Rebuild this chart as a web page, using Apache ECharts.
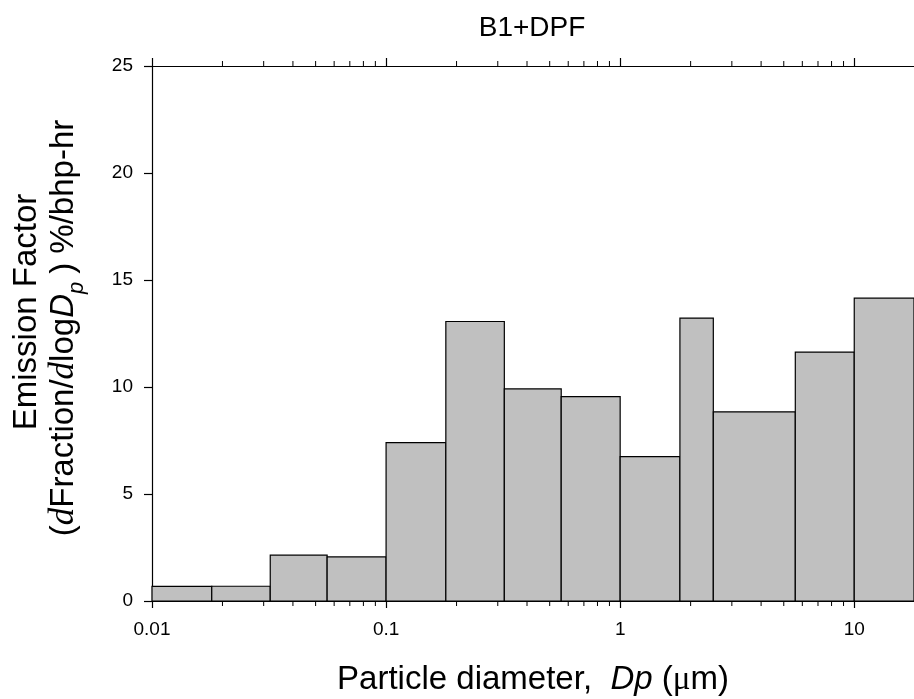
<!DOCTYPE html>
<html>
<head>
<meta charset="utf-8">
<script src="https://cdn.jsdelivr.net/npm/echarts@6/dist/echarts.min.js"></script>
<style>
html,body{margin:0;padding:0;background:#fff;}
#chart{width:914px;height:699px;}
</style>
</head>
<body>
<div id="chart"></div>
<script>
// Bin edges (µm) of the impactor stages
const binLower = [0.01, 0.018, 0.032, 0.056, 0.1, 0.18, 0.32, 0.56, 1.0, 1.8, 2.5, 5.6, 10];
const binUpper = [0.018, 0.032, 0.056, 0.1, 0.18, 0.32, 0.56, 1.0, 1.8, 2.5, 5.6, 10, 18];
// Emission factor values (dFraction/dlogDp %/bhp-hr)
const emissionValues = [0.68, 0.69, 2.14, 2.06, 7.40, 13.06, 9.91, 9.55, 6.75, 13.22, 8.84, 11.63, 14.15];
// Axis ticks
const xMajorTicks = [0.01, 0.1, 1, 10];
const xTickLabels = ['0.01', '0.1', '1', '10'];
const xMinorTicks = [0.02,0.03,0.04,0.05,0.06,0.07,0.08,0.09,
                     0.2,0.3,0.4,0.5,0.6,0.7,0.8,0.9,
                     2,3,4,5,6,7,8,9];

const FONT = '"Liberation Sans", Arial, sans-serif';
const SERIF = '"Liberation Serif", "Times New Roman", serif';

const chart = echarts.init(document.getElementById('chart'), null, {renderer: 'canvas'});

const barData = binLower.map((lo, i) => [lo, binUpper[i], emissionValues[i]]);
const minorData = xMinorTicks.map(v => [v]);

const option = {
  animation: false,
  backgroundColor: '#ffffff',
  grid: {left: 152, top: 66, bottom: 98, right: -2, containLabel: false},
  xAxis: [
    {
      type: 'log', logBase: 10, min: 0.01, max: 18, position: 'bottom',
      axisLine: {show: true, lineStyle: {color: '#000', width: 1.2}},
      axisTick: {show: true, inside: false, length: 7, customValues: xMajorTicks, lineStyle: {color: '#000', width: 1.2}},
      axisLabel: {
        show: true, customValues: xMajorTicks, margin: 19,
        fontFamily: FONT, fontSize: 19, color: '#000',
        formatter: function (v) {
          const k = Math.round(Math.log10(v)) + 2;
          return xTickLabels[k] !== undefined ? xTickLabels[k] : '';
        }
      },
      splitLine: {show: false}, minorTick: {show: false}
    },
    {
      type: 'log', logBase: 10, min: 0.01, max: 18, position: 'top',
      axisLine: {show: true, lineStyle: {color: '#000', width: 1.2}},
      axisTick: {show: true, inside: false, length: 8, customValues: xMajorTicks, lineStyle: {color: '#000', width: 1.2}},
      axisLabel: {show: false},
      splitLine: {show: false}
    }
  ],
  yAxis: [{
    type: 'value', min: 0, max: 25, interval: 5,
    axisLine: {show: true, onZero: false, lineStyle: {color: '#000', width: 1.2}},
    axisTick: {show: true, inside: false, length: 8, lineStyle: {color: '#000', width: 1.2}},
    axisLabel: {show: true, margin: 19, fontFamily: FONT, fontSize: 19, color: '#000'},
    splitLine: {show: false}
  }],
  series: [
    {
      type: 'custom',
      xAxisIndex: 0, yAxisIndex: 0,
      data: barData,
      encode: {x: [0, 1], y: 2},
      renderItem: function (params, api) {
        const p0 = api.coord([api.value(0), 0]);
        const p1 = api.coord([api.value(1), api.value(2)]);
        return {
          type: 'rect',
          shape: {x: p0[0], y: p1[1], width: p1[0] - p0[0], height: p0[1] - p1[1]},
          style: {fill: '#c0c0c0', stroke: '#000', lineWidth: 1.2}
        };
      }
    },
    {
      type: 'custom',
      xAxisIndex: 0, yAxisIndex: 0,
      data: minorData,
      encode: {x: 0},
      silent: true,
      renderItem: function (params, api) {
        const b = api.coord([api.value(0), 0]);
        const t = api.coord([api.value(0), 25]);
        return {
          type: 'group',
          children: [
            {type: 'line', shape: {x1: b[0], y1: b[1], x2: b[0], y2: b[1] + 5}, style: {stroke: '#000', lineWidth: 1}},
            {type: 'line', shape: {x1: t[0], y1: t[1], x2: t[0], y2: t[1] - 5}, style: {stroke: '#000', lineWidth: 1}}
          ]
        };
      }
    }
  ],
  graphic: [
    {
      type: 'text', x: 532, y: 28,
      style: {text: 'B1+DPF', fontFamily: FONT, fontSize: 28, fill: '#000', textAlign: 'center', textVerticalAlign: 'middle'}
    },
    {
      type: 'text', x: 533, y: 680,
      style: {
        text: '{n|Particle diameter,  }{i|Dp}{n| (}{s|μ}{n|m)}',
        textAlign: 'center', textVerticalAlign: 'middle',
        rich: {
          n: {fontFamily: FONT, fontSize: 33, fill: '#000'},
          i: {fontFamily: FONT, fontSize: 33, fontStyle: 'italic', fill: '#000'},
          s: {fontFamily: SERIF, fontSize: 33, fill: '#000'}
        }
      }
    },
    {
      type: 'text', x: 27, y: 312, rotation: Math.PI / 2,
      style: {text: 'Emission Factor', fontFamily: FONT, fontSize: 33, fill: '#000', textAlign: 'center', textVerticalAlign: 'middle'}
    },
    {
      type: 'text', x: 64, y: 328, rotation: Math.PI / 2,
      style: {
        text: '{n|(}{d|d}{n|Fraction/}{d|d}{n|log}{i|D}{sub|p}{n|) %/bhp-hr}',
        textAlign: 'center', textVerticalAlign: 'middle',
        rich: {
          n: {fontFamily: FONT, fontSize: 33, fill: '#000', lineHeight: 38, verticalAlign: 'middle'},
          d: {fontFamily: SERIF, fontSize: 35, fontStyle: 'italic', fill: '#000', lineHeight: 38, verticalAlign: 'middle'},
          i: {fontFamily: FONT, fontSize: 33, fontStyle: 'italic', fill: '#000', lineHeight: 38, verticalAlign: 'middle'},
          sub: {fontFamily: FONT, fontSize: 22, fontStyle: 'italic', fill: '#000', lineHeight: 48, verticalAlign: 'bottom', padding: [0, 8, 0, 0]}
        }
      }
    }
  ]
};

chart.setOption(option);
</script>
</body>
</html>
